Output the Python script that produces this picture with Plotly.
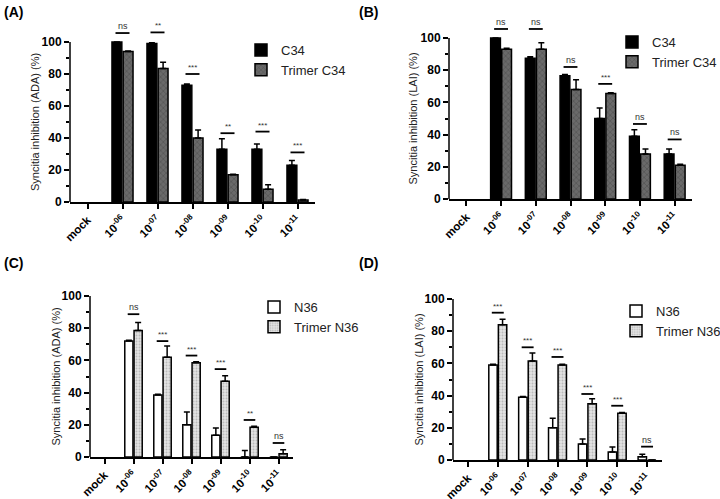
import plotly.graph_objects as go

# ---------------- data ----------------
categories = ["mock", "10-06", "10-07", "10-08", "10-09", "10-10", "10-11"]
tick_labels = ["<b>mock</b>", "<b>10<sup>-06</sup></b>", "<b>10<sup>-07</sup></b>",
               "<b>10<sup>-08</sup></b>", "<b>10<sup>-09</sup></b>",
               "<b>10<sup>-10</sup></b>", "<b>10<sup>-11</sup></b>"]

# Panel A (ADA) C34 vs Trimer C34  (mock: no bar drawn)
a_c34 = [None, 100, 99, 73, 33, 33, 23]
a_c34_err = [None, 0, 0.5, 0.8, 6.5, 3.2, 3]
a_tri = [None, 94, 83.5, 40, 17, 8, 1.2]
a_tri_err = [None, 0.4, 3.8, 5, 0.4, 2.8, 0.4]
a_sig = ["ns", "**", "***", "**", "***", "***"]
a_sig_y = [105.6, 106, 80, 43, 44, 31]

# Panel B (LAI) C34 vs Trimer C34
b_c34 = [None, 100, 87.5, 76.5, 50, 39, 28]
b_c34_err = [None, 0, 0.8, 0.8, 6.5, 4, 3]
b_tri = [None, 93, 93, 68, 65.5, 28, 21]
b_tri_err = [None, 0.6, 4, 6, 0.5, 3, 0.6]
b_sig = ["ns", "ns", "ns", "***", "ns", "ns"]
b_sig_y = [105.6, 105.6, 82, 71.5, 46.6, 37]

# Panel C (ADA) N36 vs Trimer N36
c_n36 = [None, 72, 38.5, 20, 13.5, 0, 0]
c_n36_err = [None, 0.5, 0.5, 8, 4.5, 4, 0]
c_tri = [None, 78.5, 62, 58.5, 47, 18.5, 2]
c_tri_err = [None, 5, 7, 0.6, 3.5, 0.6, 2.5]
c_sig = ["ns", "***", "***", "***", "**", "ns"]
c_sig_y = [88.7, 72, 63, 54.6, 23, 8.7]

# Panel D (LAI) N36 vs Trimer N36
d_n36 = [None, 59, 39, 20, 10, 5, 2]
d_n36_err = [None, 0.5, 0.5, 6, 3, 3, 1.5]
d_tri = [None, 84, 61.5, 59, 35, 29, 0]
d_tri_err = [None, 3.5, 5, 0.5, 3, 0.5, 0]
d_sig = ["***", "***", "***", "***", "***", "ns"]
d_sig_y = [91.5, 70, 64, 41, 33.7, 8.3]

# ---------------- layout constants ----------------
W, H = 720, 499
FONT = "Arial, Liberation Sans, sans-serif"

panels = [
    dict(ax="", xd=(70, 315), y0=202, y100=42,
         s1=("C34", a_c34, a_c34_err), s2=("Trimer C34", a_tri, a_tri_err),
         sig=a_sig, sig_y=a_sig_y, ytitle="Syncitia inhibition (ADA) (%)", tx=35,
         label="(A)", lx=2, ly=2, leg=(241, 35), dark=True),
    dict(ax="2", xd=(449, 692), y0=199, y100=38,
         s1=("C34", b_c34, b_c34_err), s2=("Trimer C34", b_tri, b_tri_err),
         sig=b_sig, sig_y=b_sig_y, ytitle="Syncitia inhibition (LAI) (%)", tx=413,
         label="(B)", lx=357, ly=2, leg=(612, 27), dark=True),
    dict(ax="3", xd=(90, 293), y0=457, y100=296,
         s1=("N36", c_n36, c_n36_err), s2=("Trimer N36", c_tri, c_tri_err),
         sig=c_sig, sig_y=c_sig_y, ytitle="Syncitia inhibition (ADA) (%)", tx=55,
         label="(C)", lx=2, ly=253, leg=(254, 292), dark=False),
    dict(ax="4", xd=(453, 662), y0=460, y100=299,
         s1=("N36", d_n36, d_n36_err), s2=("Trimer N36", d_tri, d_tri_err),
         sig=d_sig, sig_y=d_sig_y, ytitle="Syncitia inhibition (LAI) (%)", tx=418,
         label="(D)", lx=357, ly=253, leg=(616, 296), dark=False),
]

YMAX = 110
fig = go.Figure()
layout = dict(width=W, height=H, margin=dict(l=0, r=0, t=0, b=0, autoexpand=False),
              paper_bgcolor="white", plot_bgcolor="white",
              barmode="group", bargap=0.36, bargroupgap=0.12,
              showlegend=True, font=dict(family=FONT, color="black"))
shapes, annotations = [], []

for p in panels:
    sfx = p["ax"]
    xa, ya = "x" + sfx, "y" + sfx
    legname = "legend" + sfx
    px_per = (p["y0"] - p["y100"]) / 100.0
    ytop_px = p["y0"] - YMAX * px_per
    xdom = [p["xd"][0] / W, p["xd"][1] / W]
    ydom = [1 - p["y0"] / H, 1 - ytop_px / H]
    xs = list(range(len(categories)))

    n1, v1, e1 = p["s1"]
    n2, v2, e2 = p["s2"]
    if p["dark"]:
        m1 = dict(color="black", line=dict(color="black", width=1.5))
        m2 = dict(color="#5c5c5c", line=dict(color="black", width=1.5),
                  pattern=dict(shape="x", fgcolor="#2e2e2e", bgcolor="#6a6a6a", size=4, solidity=0.25))
    else:
        m1 = dict(color="white", line=dict(color="black", width=1.5))
        m2 = dict(color="#d8d8d8", line=dict(color="black", width=1.5),
                  pattern=dict(shape=".", fgcolor="#8a8a8a", bgcolor="#e4e4e4", size=3, solidity=0.35))
    err_style = dict(type="data", symmetric=False, color="black", thickness=1.5, width=3)
    fig.add_trace(go.Bar(x=xs, y=v1, name=n1, marker=m1, xaxis=xa, yaxis=ya, legend=legname,
                         error_y=dict(array=e1, arrayminus=[0] * len(e1), **err_style)))
    fig.add_trace(go.Bar(x=xs, y=v2, name=n2, marker=m2, xaxis=xa, yaxis=ya, legend=legname,
                         error_y=dict(array=e2, arrayminus=[0] * len(e2), **err_style)))

    layout["xaxis" + sfx] = dict(domain=xdom, anchor=ya, range=[-0.5, 6.5], automargin=False,
                                 tickmode="array", tickvals=xs, ticktext=tick_labels,
                                 tickangle=-45, ticks="outside", ticklen=5, tickwidth=1.5,
                                 tickcolor="black", showline=True, linecolor="black", linewidth=1.5,
                                 showgrid=False, zeroline=False,
                                 tickfont=dict(family=FONT, size=11.5, color="black"))
    layout["yaxis" + sfx] = dict(domain=ydom, anchor=xa, range=[0, YMAX], automargin=False,
                                 tickmode="array", tickvals=[0, 20, 40, 60, 80, 100],
                                 ticktext=["<b>%d</b>" % v for v in [0, 20, 40, 60, 80, 100]],
                                 ticks="outside", ticklen=5, tickwidth=1.5, tickcolor="black",
                                 showline=False, showgrid=False, zeroline=False,
                                 tickfont=dict(family=FONT, size=12, color="black"),
                                 minor=dict(tickmode="array", tickvals=[10, 30, 50, 70, 90],
                                            ticks="outside", ticklen=3, tickwidth=1.5,
                                            tickcolor="black", showgrid=False))
    # y axis line from 0 to 100
    shapes.append(dict(type="line", xref="paper", yref=ya, x0=xdom[0], x1=xdom[0], y0=0, y1=100,
                       line=dict(color="black", width=1.5)))
    # significance marks
    for i, (s, sy) in enumerate(zip(p["sig"], p["sig_y"])):
        cx = i + 1
        shapes.append(dict(type="line", xref=xa, yref=ya, x0=cx - 0.2, x1=cx + 0.2, y0=sy, y1=sy,
                           line=dict(color="black", width=1.8)))
        annotations.append(dict(x=cx, y=sy, xref=xa, yref=ya, text=s, showarrow=False,
                                yanchor="bottom", yshift=0,
                                font=dict(family=FONT, size=9 if s == "ns" else 8, color="#333")))
    # y title
    annotations.append(dict(x=p["tx"] / W, y=1 - ((p["y0"] + p["y100"]) / 2) / H,
                            xref="paper", yref="paper", text=p["ytitle"], textangle=-90,
                            showarrow=False, xanchor="center", yanchor="middle",
                            font=dict(family=FONT, size=11, color="#222")))
    # panel label
    annotations.append(dict(x=p["lx"] / W, y=1 - p["ly"] / H, xref="paper", yref="paper",
                            text="<b>%s</b>" % p["label"], showarrow=False,
                            xanchor="left", yanchor="top",
                            font=dict(family=FONT, size=14, color="black")))
    layout[legname] = dict(x=p["leg"][0] / W, y=1 - p["leg"][1] / H, xanchor="left", yanchor="top",
                           bgcolor="rgba(0,0,0,0)", font=dict(family=FONT, size=13, color="#222"),
                           tracegroupgap=0)

layout["shapes"] = shapes
layout["annotations"] = annotations
fig.update_layout(**layout)
fig.write_html("out.html", config={"displayModeBar": False},
               post_script="document.body.style.margin='0';document.body.style.overflow='hidden';")
